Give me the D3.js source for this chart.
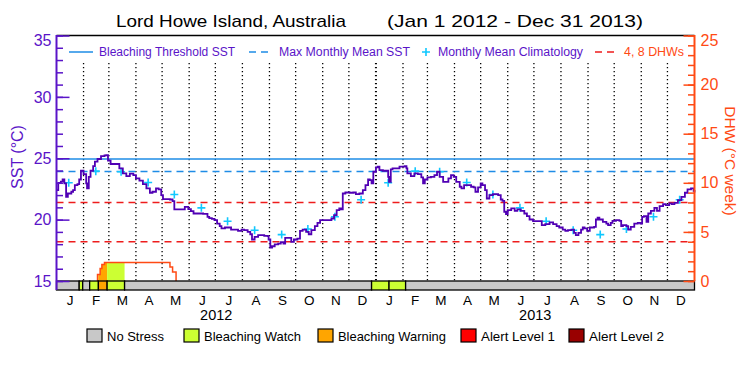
<!DOCTYPE html>
<html>
<head>
<meta charset="utf-8">
<script src="https://cdn.jsdelivr.net/npm/d3@7"></script>
<style>
  body { margin: 0; background: #fff; }
  svg { display: block; }
  text { font-family: "Liberation Sans", "DejaVu Sans", sans-serif; }
</style>
</head>
<body>
<div id="chart"></div>
<script>
// daily SST: day offset from 1 Jan 2012 and value (degC)
const sstDay = [
  0, 2, 5, 7, 9, 11, 13, 17, 19, 21,
  24, 26, 28, 31, 34, 35, 37, 39, 42, 44,
  47, 51, 55, 57, 59, 62, 70, 72, 76, 80,
  84, 88, 91, 95, 99, 103, 107, 110, 114, 117,
  120, 122, 130, 133, 135, 142, 147, 151, 154, 157,
  168, 173, 175, 178, 181, 184, 187, 189, 193, 196,
  200, 208, 212, 215, 219, 222, 224, 227, 231, 238,
  242, 243, 245, 247, 250, 254, 257, 260, 262, 266,
  269, 272, 276, 279, 282, 286, 289, 292, 296, 299,
  302, 311, 315, 318, 321, 324, 326, 328, 331, 336,
  340, 343, 347, 351, 354, 357, 359, 361, 363, 366,
  368, 370, 374, 378, 380, 381, 383, 385, 389, 393,
  399, 401, 402, 406, 410, 414, 418, 420, 422, 425,
  429, 433, 436, 439, 443, 446, 449, 452, 455, 458,
  462, 464, 467, 471, 475, 478, 480, 483, 486, 488,
  491, 493, 496, 500, 504, 506, 509, 511, 513, 515,
  517, 521, 525, 528, 532, 536, 539, 542, 546, 556,
  560, 565, 569, 573, 576, 580, 583, 586, 590, 593,
  595, 598, 601, 603, 605, 608, 611, 616, 618, 620,
  622, 626, 630, 632, 635, 637, 641, 645, 647, 649,
  653, 655, 658, 662, 666, 669, 671, 673, 676, 678,
  681, 685, 688, 691, 695, 698, 702, 705, 708, 712,
  716, 720, 723, 727, 730, 731
];
const sstValue = [
  22.40, 23.00, 23.10, 23.27, 22.95, 21.86, 22.13, 22.27, 22.40, 22.81,
  22.89, 23.27, 23.98, 23.71, 22.95, 22.54, 23.49, 23.98, 24.36, 24.72,
  24.94, 25.18, 25.23, 25.26, 24.80, 24.53, 24.53, 24.17, 23.76, 23.55,
  23.74, 23.63, 23.36, 23.17, 22.89, 22.54, 22.19, 22.27, 22.54, 22.46,
  21.99, 21.67, 21.64, 21.50, 20.83, 20.83, 21.04, 20.85, 20.69, 20.50,
  20.47, 20.23, 20.12, 20.06, 19.96, 19.68, 19.47, 19.28, 19.36, 19.36,
  19.19, 19.09, 19.19, 19.14, 19.00, 18.81, 18.38, 18.60, 18.73, 18.68,
  18.65, 18.38, 17.72, 17.83, 17.99, 18.05, 18.16, 18.05, 18.51, 18.51,
  18.19, 18.38, 18.46, 19.09, 19.19, 19.00, 18.81, 19.14, 19.47, 19.74,
  19.96, 19.96, 20.09, 20.36, 20.77, 20.91, 20.83, 22.13, 22.21, 22.19,
  22.21, 22.08, 22.13, 22.40, 22.81, 23.27, 23.22, 22.95, 23.90, 24.25,
  24.31, 24.04, 23.98, 23.98, 23.49, 23.08, 24.09, 24.17, 24.17, 24.31,
  24.36, 24.17, 23.76, 23.55, 23.76, 23.71, 23.44, 22.95, 23.27, 23.44,
  23.49, 23.63, 23.90, 23.49, 23.08, 23.08, 23.36, 23.63, 23.49, 23.08,
  22.68, 22.54, 22.81, 22.81, 22.68, 22.62, 22.27, 22.62, 22.95, 22.81,
  22.40, 21.72, 21.99, 22.08, 22.08, 21.99, 21.64, 21.53, 20.64, 20.45,
  20.77, 20.91, 20.72, 20.83, 20.72, 20.50, 20.29, 20.01, 19.87, 19.55,
  19.63, 19.77, 19.63, 19.47, 19.36, 19.19, 19.09, 19.14, 19.19, 18.92,
  18.73, 18.92, 19.19, 19.36, 19.28, 19.09, 19.36, 19.41, 20.01, 20.17,
  20.01, 19.82, 19.68, 19.55, 19.74, 19.90, 19.96, 19.90, 19.47, 19.55,
  19.47, 19.19, 19.41, 19.68, 19.74, 19.68, 20.23, 20.29, 19.82, 20.50,
  20.72, 20.96, 20.72, 21.10, 21.26, 21.18, 21.32, 21.26, 21.37, 21.59,
  21.86, 22.19, 22.46, 22.54, 22.35, 22.20
];

// monthly mean climatology, Jan..Dec
const climValue = [23.00, 23.95, 23.90, 23.03, 22.05, 20.96, 19.87, 19.14, 18.78, 19.24, 20.23, 21.62];
const mmmSST = 23.93;
const thresholdSST = 24.93;
const dhwLevels = [4, 8];

const dhwDate  = ["2012-02-17", "2012-02-17", "2012-02-20", "2012-02-22", "2012-02-25", "2012-05-10", "2012-05-13", "2012-05-17"];
const dhwValue = [0, 0.65, 1.27, 1.67, 1.88, 1.43, 0.92, 0];

const stressStart = ["2012-01-01", "2012-01-27", "2012-01-31", "2012-02-08", "2012-02-18", "2012-02-28",
                     "2012-03-19", "2012-12-27", "2013-01-16", "2013-02-04"];
const stressLevel = [0, 1, 0, 1, 2, 1, 0, 1, 1, 0];
const stressNames = ["No Stress", "Bleaching Watch", "Bleaching Warning", "Alert Level 1", "Alert Level 2"];
const stressColors = ["#c8c8c8", "#ccff33", "#ffa500", "#ff0000", "#990000"];

const monthLetters = ["J", "F", "M", "A", "M", "J", "J", "A", "S", "O", "N", "D"];
const years = [2012, 2013];
const sstTicks = [15, 20, 25, 30, 35];
const dhwTicks = [0, 5, 10, 15, 20, 25];

const legendLabels = ["Bleaching Threshold SST", "Max Monthly Mean SST", "Monthly Mean Climatology", "4, 8 DHWs"];

var width = 750, height = 375;
var purple = "#5a14c8", lineCol = "#5000b4", orange = "#ff4a14",
    blue = "#1e8ce6", cyan = "#10c8ff", red = "#ee1c1c";

var parse = d3.utcParse("%Y-%m-%d");
var t0 = parse("2012-01-01"), t1 = parse("2014-01-01");

var x = d3.scaleUtc().domain([t0, t1]).range([56.5, 694.5]);
var y = d3.scaleLinear().domain([15, 35]).range([281, 35.5]);
var yd = d3.scaleLinear().domain([0, 25]).range([281, 35.5]);
var barTop = 281, barBot = 290;

var svg = d3.select("#chart").append("svg")
  .attr("width", width).attr("height", height);

svg.append("rect").attr("width", width).attr("height", height).attr("fill", "#fff");

// title
svg.append("text").attr("x", 116).attr("y", 27).attr("font-size", 17)
  .attr("textLength", 230).attr("lengthAdjust", "spacingAndGlyphs")
  .text("Lord Howe Island, Australia");
svg.append("text").attr("x", 387).attr("y", 27).attr("font-size", 17)
  .attr("textLength", 256).attr("lengthAdjust", "spacingAndGlyphs")
  .text("(Jan 1 2012 - Dec 31 2013)");

// month dotted lines
var months = d3.utcMonth.range(t0, t1);
svg.append("g").selectAll("line")
  .data(months.slice(1))
  .enter().append("line")
  .attr("x1", d => x(d)).attr("x2", d => x(d))
  .attr("y1", 63).attr("y2", barTop)
  .attr("stroke", "#000")
  .attr("stroke-width", d => d.getUTCMonth() === 0 ? 2 : 1.3)
  .attr("stroke-dasharray", "1.3,2.7");

// threshold and MMM
svg.append("line").attr("x1", x(t0)).attr("x2", x(t1))
  .attr("y1", y(thresholdSST)).attr("y2", y(thresholdSST))
  .attr("stroke", blue).attr("stroke-width", 1.5);
svg.append("line").attr("x1", x(t0)).attr("x2", x(t1))
  .attr("y1", y(mmmSST)).attr("y2", y(mmmSST))
  .attr("stroke", blue).attr("stroke-width", 1.5).attr("stroke-dasharray", "7,5");

// 4, 8 DHW lines
svg.append("g").selectAll("line").data(dhwLevels).enter().append("line")
  .attr("x1", x(t0)).attr("x2", x(t1))
  .attr("y1", d => yd(d)).attr("y2", d => yd(d))
  .attr("stroke", red).attr("stroke-width", 1.5).attr("stroke-dasharray", "7,5");

// DHW area filled with the stress colour of each period
var dhw = dhwDate.map((d, i) => ({ t: parse(d), v: dhwValue[i] }));
var stress = stressStart.map((d, i) => ({
  t: parse(d),
  end: i < stressStart.length - 1 ? parse(stressStart[i + 1]) : t1,
  level: stressLevel[i]
}));

var dhwArea = d3.area().curve(d3.curveStepAfter)
  .x(d => x(d.t)).y0(yd(0)).y1(d => yd(d.v));

var defs = svg.append("defs");
stress.forEach(function(s, i) {
  if (s.level === 0) return;
  defs.append("clipPath").attr("id", "clip" + i)
    .append("rect").attr("x", x(s.t)).attr("y", 0)
    .attr("width", x(s.end) - x(s.t)).attr("height", barTop);
  svg.append("path").datum(dhw)
    .attr("d", dhwArea)
    .attr("fill", stressColors[s.level])
    .attr("clip-path", "url(#clip" + i + ")");
});

svg.append("path").datum(dhw)
  .attr("d", d3.line().curve(d3.curveStepAfter).x(d => x(d.t)).y(d => yd(d.v)))
  .attr("fill", "none").attr("stroke", orange).attr("stroke-width", 1.5);

// climatology crosses
var clim = [];
years.forEach(yr => climValue.forEach((v, m) => clim.push({ t: new Date(Date.UTC(yr, m, 15)), v: v })));
svg.append("g").selectAll("path").data(clim).enter().append("path")
  .attr("d", d => "M" + (x(d.t) - 4) + "," + y(d.v) + "h8M" + x(d.t) + "," + (y(d.v) - 4) + "v8")
  .attr("stroke", cyan).attr("stroke-width", 1.6).attr("fill", "none");

// SST line
var sst = sstDay.map((d, i) => ({ t: d3.utcDay.offset(t0, d), v: sstValue[i] }));
svg.append("path").datum(sst)
  .attr("d", d3.line().curve(d3.curveStepAfter).x(d => x(d.t)).y(d => y(d.v)))
  .attr("fill", "none").attr("stroke", lineCol).attr("stroke-width", 1.8);

// stress bar
svg.append("g").selectAll("rect").data(stress).enter().append("rect")
  .attr("x", d => x(d.t)).attr("y", barTop)
  .attr("width", d => x(d.end) - x(d.t)).attr("height", barBot - barTop)
  .attr("fill", d => stressColors[d.level])
  .attr("stroke", "#000").attr("stroke-width", 1.3);

// frame top
svg.append("line").attr("x1", x(t0)).attr("x2", x(t1)).attr("y1", 35.5).attr("y2", 35.5)
  .attr("stroke", "#000").attr("stroke-width", 1.5);

// left axis
var gL = svg.append("g").attr("transform", "translate(" + x(t0) + ",0)");
gL.append("g").call(d3.axisLeft(y).tickValues(d3.range(15, 36)).tickSizeInner(-6.5).tickSizeOuter(0).tickFormat(""));
gL.append("g").call(d3.axisLeft(y).tickValues(sstTicks).tickSizeInner(-13).tickSizeOuter(0).tickPadding(5));
gL.selectAll("path.domain").remove();
gL.selectAll("line").attr("stroke", purple).attr("stroke-width", 1.5);
gL.selectAll("text").attr("fill", purple).attr("font-size", 16)
  .attr("font-family", "Liberation Sans, sans-serif")
  .filter(d => d === 35).attr("y", 5);
gL.append("line").attr("x1", 0).attr("x2", 0).attr("y1", 35).attr("y2", barBot)
  .attr("stroke", purple).attr("stroke-width", 2);

// right axis
var gR = svg.append("g").attr("transform", "translate(" + x(t1) + ",0)");
gR.append("g").call(d3.axisRight(yd).tickValues(d3.range(0, 26)).tickSizeInner(-6.5).tickSizeOuter(0).tickFormat(""));
gR.append("g").call(d3.axisRight(yd).tickValues(dhwTicks).tickSizeInner(-11).tickSizeOuter(0).tickPadding(6));
gR.selectAll("path.domain").remove();
gR.selectAll("line").attr("stroke", orange).attr("stroke-width", 1.5);
gR.selectAll("text").attr("fill", orange).attr("font-size", 16)
  .attr("font-family", "Liberation Sans, sans-serif")
  .filter(d => d === 25).attr("y", 5);
gR.append("line").attr("x1", 0).attr("x2", 0).attr("y1", 35).attr("y2", barTop)
  .attr("stroke", orange).attr("stroke-width", 2);

// axis titles
svg.append("text").attr("transform", "translate(23,157) rotate(-90)")
  .attr("text-anchor", "middle").attr("font-size", 16).attr("fill", purple)
  .text("SST (\u00B0C)");
svg.append("text").attr("transform", "translate(725,161) rotate(90)")
  .attr("text-anchor", "middle").attr("font-size", 15.5).attr("fill", orange)
  .text("DHW (\u00B0C week)");

// month letters and years
svg.append("g").selectAll("text").data(months).enter().append("text")
  .attr("x", d => (x(d) + x(d3.utcMonth.offset(d, 1))) / 2)
  .attr("y", 305).attr("text-anchor", "middle").attr("font-size", 13.5)
  .text(d => monthLetters[d.getUTCMonth()]);
svg.append("g").selectAll("text").data(years).enter().append("text")
  .attr("x", d => (x(new Date(Date.UTC(d, 0, 1))) + x(new Date(Date.UTC(d + 1, 0, 1)))) / 2)
  .attr("y", 320).attr("text-anchor", "middle").attr("font-size", 14.5)
  .text(d => d);

// top legend
var lg = svg.append("g").attr("font-size", 12.5);
lg.append("line").attr("x1", 69).attr("x2", 93).attr("y1", 52).attr("y2", 52)
  .attr("stroke", blue).attr("stroke-width", 1.5);
lg.append("text").attr("x", 99).attr("y", 56).attr("fill", purple)
  .attr("textLength", 136).attr("lengthAdjust", "spacingAndGlyphs").text(legendLabels[0]);
lg.append("line").attr("x1", 249).attr("x2", 273).attr("y1", 52).attr("y2", 52)
  .attr("stroke", blue).attr("stroke-width", 1.5).attr("stroke-dasharray", "7,5");
lg.append("text").attr("x", 279).attr("y", 56).attr("fill", purple)
  .attr("textLength", 131).attr("lengthAdjust", "spacingAndGlyphs").text(legendLabels[1]);
lg.append("path").attr("d", "M422,52h8M426,48v8").attr("stroke", cyan).attr("stroke-width", 1.6);
lg.append("text").attr("x", 438).attr("y", 56).attr("fill", purple)
  .attr("textLength", 145).attr("lengthAdjust", "spacingAndGlyphs").text(legendLabels[2]);
lg.append("line").attr("x1", 595).attr("x2", 619).attr("y1", 52).attr("y2", 52)
  .attr("stroke", red).attr("stroke-width", 1.5).attr("stroke-dasharray", "7,5");
lg.append("text").attr("x", 624).attr("y", 56).attr("fill", orange)
  .attr("textLength", 60).attr("lengthAdjust", "spacingAndGlyphs").text(legendLabels[3]);

// stress legend
var boxX = [87, 184, 318, 461, 569];
var textW = [57, 97, 108, 74, 75];
var sl = svg.append("g").selectAll("g").data(stressNames).enter().append("g")
  .attr("transform", (d, i) => "translate(" + boxX[i] + ",329)");
sl.append("rect").attr("width", 15).attr("height", 13)
  .attr("fill", (d, i) => stressColors[i]).attr("stroke", "#000").attr("stroke-width", 1.2);
sl.append("text").attr("x", 20).attr("y", 12).attr("font-size", 13)
  .attr("textLength", (d, i) => textW[i]).attr("lengthAdjust", "spacingAndGlyphs")
  .text(d => d);
</script>
</body>
</html>
